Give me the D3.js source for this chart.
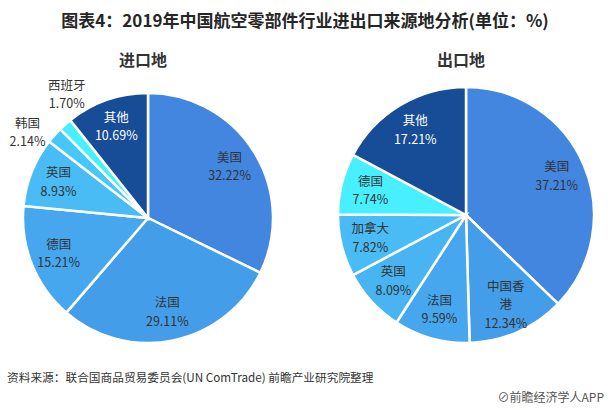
<!DOCTYPE html>
<html>
<head>
  <meta charset="utf-8">
  <script src="https://cdn.jsdelivr.net/npm/d3@7"></script>
  <style>
    body { margin: 0; background: #fff; }
    svg { display: block; font-family: "Noto Sans CJK SC", "Noto Sans", sans-serif; }
  </style>
</head>
<body>
<script>
  // 进口地
  const importNames = ["美国", "法国", "德国", "英国", "韩国", "西班牙", "其他"];
  const importValues = [32.22, 29.11, 15.21, 8.93, 2.14, 1.70, 10.69];
  const importOutside = ["韩国", "西班牙"];

  // 出口地
  const exportNames = ["美国", "中国香港", "法国", "英国", "加拿大", "德国", "其他"];
  const exportValues = [37.21, 12.34, 9.59, 8.09, 7.82, 7.74, 17.21];

  const importColors = ["#4286e0", "#449de8", "#46a6ee", "#49bbf5", "#45c8f8", "#48efff", "#174c97"];
  const exportColors = ["#4286e0", "#449de8", "#46a6ee", "#48b4f2", "#49bbf5", "#48efff", "#174c97"];

  const w = 610, h = 410;
  const lineH = 18.5;

  const svg = d3.select("body").append("svg")
    .attr("width", w)
    .attr("height", h);

  svg.append("text")
    .attr("x", 305).attr("y", 27)
    .attr("text-anchor", "middle")
    .attr("font-size", "17px")
    .attr("font-weight", "bold")
    .attr("fill", "#262626")
    .text("图表4：2019年中国航空零部件行业进出口来源地分析(单位：%)");

  function drawPie(cx, cy, r, title, names, values, colors, outside) {
    const g = svg.append("g").attr("transform", `translate(${cx},${cy})`);
    const data = names.map((n, i) => ({ name: n, value: values[i], color: colors[i] }));

    const pie = d3.pie().sort(null).value(d => d.value);
    const arc = d3.arc().innerRadius(0).outerRadius(r);
    const labelArc = d3.arc().innerRadius(r * 0.77).outerRadius(r * 0.77);
    const outR = r * 1.18;
    const outArc = d3.arc().innerRadius(outR).outerRadius(outR);

    const arcs = pie(data);

    g.selectAll("path")
      .data(arcs)
      .enter()
      .append("path")
      .attr("d", arc)
      .attr("fill", d => d.data.color)
      .attr("stroke", "#fff")
      .attr("stroke-width", 2.5);

    g.append("text")
      .attr("x", -5).attr("y", -cy + 66)
      .attr("text-anchor", "middle")
      .attr("font-size", "16px")
      .attr("font-weight", "bold")
      .attr("fill", "#333")
      .text(title);

    // positions: inside labels on centroid, outside labels spread apart vertically
    const pos = arcs.map(d => outside.includes(d.data.name) ? outArc.centroid(d) : labelArc.centroid(d));
    const outIdx = arcs.map((d, i) => i).filter(i => outside.includes(arcs[i].data.name));
    const minGap = lineH * 2 + 1;
    for (let k = 0; k < 20; k++) {
      for (let a = 0; a < outIdx.length; a++) {
        for (let b = a + 1; b < outIdx.length; b++) {
          const pa = pos[outIdx[a]], pb = pos[outIdx[b]];
          const gap = Math.abs(pa[1] - pb[1]);
          if (gap < minGap) {
            const push = (minGap - gap) / 2;
            if (pa[1] > pb[1]) { pa[1] += push; pb[1] -= push; } else { pa[1] -= push; pb[1] += push; }
          }
        }
      }
    }
    outIdx.forEach(i => {
      const p = pos[i];
      const sx = p[0] < 0 ? -1 : 1;
      p[0] = sx * Math.sqrt(Math.max(0, outR * outR - p[1] * p[1]));
    });

    const labels = g.selectAll("text.label")
      .data(arcs)
      .enter()
      .append("text")
      .attr("class", "label")
      .attr("text-anchor", "middle")
      .attr("font-size", "12.5px")
      .attr("fill", d => d.data.name === "其他" ? "#fff" : "#333")
      .attr("transform", (d, i) => `translate(${pos[i][0]},${pos[i][1]})`);

    labels.each(function (d) {
      const t = d3.select(this);
      // long names wrap after three characters
      let lines = [d.data.name];
      if (d.data.name.length > 3) lines = [d.data.name.slice(0, 3), d.data.name.slice(3)];
      lines.push(d.data.value.toFixed(2) + "%");
      const start = -(lines.length - 1) * lineH / 2 + 4;
      lines.forEach((l, i) => {
        t.append("tspan").attr("x", 0).attr("y", start + i * lineH).text(l);
      });
    });
  }

  drawPie(148, 218, 125, "进口地", importNames, importValues, importColors, importOutside);
  drawPie(466, 215, 128, "出口地", exportNames, exportValues, exportColors, []);

  svg.append("text")
    .attr("x", 7).attr("y", 382)
    .attr("font-size", "11.7px")
    .attr("fill", "#333")
    .text("资料来源：联合国商品贸易委员会(UN ComTrade) 前瞻产业研究院整理");

  svg.append("text")
    .attr("x", 604).attr("y", 402)
    .attr("text-anchor", "end")
    .attr("font-size", "12px")
    .attr("fill", "#555")
    .text("⊘前瞻经济学人APP");
</script>
</body>
</html>
